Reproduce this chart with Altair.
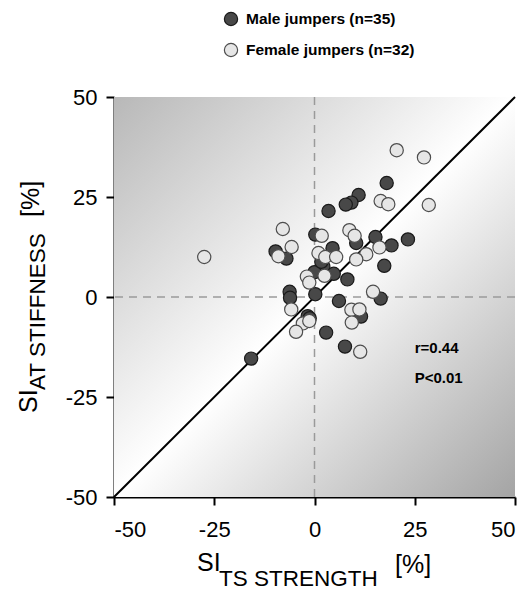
import altair as alt
import pandas as pd

# ---- data ----
groups = ["Male jumpers (n=35)", "Female jumpers (n=32)"]
fills = ["#484848", "#e6e6e6"]
strokes = ["#1a1a1a", "#4d4d4d"]

male_x = [18.0, 11.0, 9.2, 7.8, 3.5, 0.2, 15.2, 10.4, 19.2, 23.3, 4.5, -9.7, -7.0,
          17.4, 2.2, 0.0, 4.8, 8.2, -6.2, -6.1, 0.2, 6.1, 16.5, 11.6, -1.7, -1.2,
          2.9, 7.6, -15.8, 1.7]
male_y = [28.5, 25.5, 23.6, 23.1, 21.5, 15.6, 15.0, 13.5, 12.9, 14.4, 12.2, 11.4, 9.6,
          7.8, 7.6, 6.2, 5.8, 4.4, 1.3, -0.2, 0.7, -1.0, -0.4, -4.9, -4.8, -5.3,
          -8.9, -12.4, -15.4, 8.8]

female_x = [20.5, 27.3, 16.5, 18.4, 28.5, -7.9, 1.8, 8.7, 10.0, -5.7, 16.2, -27.5,
            -9.0, 1.0, 2.7, 5.4, 12.9, 10.4, -1.9, -1.3, 2.5, 14.6, -5.8, 9.2, 11.2,
            -2.9, -4.6, 9.3, 11.4, -1.3]
female_y = [36.7, 34.9, 24.0, 23.2, 23.0, 17.0, 15.3, 16.7, 15.3, 12.5, 12.4, 10.0,
            10.2, 11.0, 10.0, 10.0, 10.7, 9.4, 5.1, 3.6, 5.3, 1.3, -3.1, -3.2, -3.1,
            -6.6, -8.7, -6.4, -13.7, -6.0]

tick_values = [-50, -25, 0, 25, 50]
stats_text = ["r=0.44", "P<0.01"]
stats_x = [25, 25]
stats_y = [-12.75, -20.25]

FONT = "Liberation Sans"

df = pd.DataFrame({
    "x": male_x + female_x,
    "y": male_y + female_y,
    "group": [groups[0]] * len(male_x) + [groups[1]] * len(female_x),
})

xs = alt.Scale(domain=[-50, 50], nice=False, zero=False)
ys = alt.Scale(domain=[-50, 50], nice=False, zero=False)
axis_common = dict(values=tick_values, title=None, grid=False, domainColor="black",
                   domainWidth=2, tickColor="black", tickWidth=2, tickSize=8,
                   labelFont=FONT, labelFontSize=22, labelColor="black",
                   labelExpr="'' + datum.value")
x_axis = alt.Axis(labelPadding=14, **axis_common)
y_axis = alt.Axis(labelPadding=9, **axis_common)

bg_df = pd.DataFrame({"x1": [-50], "x2": [50], "y1": [-50], "y2": [50]})
bg = alt.Chart(bg_df).mark_rect(
    fill=alt.Gradient(
        gradient="linear",
        stops=[alt.GradientStop(color="#b8b8b8", offset=0),
               alt.GradientStop(color="#ffffff", offset=0.5),
               alt.GradientStop(color="#a4a4a4", offset=1)],
        x1=0, y1=0, x2=1, y2=1),
).encode(
    x=alt.X("x1:Q", scale=xs, axis=x_axis),
    x2="x2:Q",
    y=alt.Y("y1:Q", scale=ys, axis=y_axis),
    y2="y2:Q",
)

zero_df = pd.DataFrame({"v": [0]})
vline = alt.Chart(zero_df).mark_rule(color="#9a9a9a", strokeWidth=1.5, strokeDash=[8, 6]).encode(
    x=alt.X("v:Q", scale=xs))
hline = alt.Chart(zero_df).mark_rule(color="#9a9a9a", strokeWidth=1.5, strokeDash=[8, 6]).encode(
    y=alt.Y("v:Q", scale=ys))

ident_df = pd.DataFrame({"d": [-50, 50]})
ident = alt.Chart(ident_df).mark_line(color="black", strokeWidth=2).encode(
    x=alt.X("d:Q", scale=xs), y=alt.Y("d:Q", scale=ys))

fill_scale = alt.Scale(domain=groups, range=fills)
stroke_scale = alt.Scale(domain=groups, range=strokes)

pts = alt.Chart(df).mark_point(shape="circle", filled=True, size=175, strokeWidth=1.2,
                               opacity=1, fillOpacity=1).encode(
    x=alt.X("x:Q", scale=xs),
    y=alt.Y("y:Q", scale=ys),
    fill=alt.Fill("group:N", scale=fill_scale, legend=None),
    stroke=alt.Stroke("group:N", scale=stroke_scale, legend=None),
)

stats_df = pd.DataFrame({"x": stats_x, "y": stats_y, "t": stats_text})
stats = alt.Chart(stats_df).mark_text(align="left", baseline="middle", font=FONT,
                                      fontWeight="bold", fontSize=15, color="black").encode(
    x=alt.X("x:Q", scale=xs), y=alt.Y("y:Q", scale=ys), text="t:N")

# legend (manual, outside plot area)
leg_df = pd.DataFrame({"group": groups})
legend_layers = []
for i, g in enumerate(groups):
    sub = alt.Chart(leg_df).transform_filter(alt.datum.group == g)
    legend_layers.append(sub.mark_point(shape="circle", filled=True, size=175, strokeWidth=1.2,
                                        opacity=1, fillOpacity=1).encode(
        x=alt.value(117), y=alt.value(-78 + 31 * i),
        fill=alt.Fill("group:N", scale=fill_scale, legend=None),
        stroke=alt.Stroke("group:N", scale=stroke_scale, legend=None)))
    legend_layers.append(sub.mark_text(align="left", baseline="middle", font=FONT,
                                       fontWeight="bold", fontSize=15.5, color="black").encode(
        x=alt.value(132), y=alt.value(-78 + 31 * i), text="group:N"))

# axis titles with subscripts
t_df = pd.DataFrame({"a": [0]})
def label(text, x, y, size, angle=0):
    return alt.Chart(t_df).mark_text(text=text, align="left", baseline="alphabetic", font=FONT,
                                     fontSize=size, color="black", angle=angle).encode(
        x=alt.value(x), y=alt.value(y))

titles = [
    label("SI", 83, 474, 25),
    label("TS STRENGTH", 105, 489, 22.5),
    label("[%]", 281, 476, 25),
    label("SI", -77, 316, 25, 270),
    label("AT STIFFNESS", -69, 293, 22.5, 270),
    label("[%]", -75, 120, 25, 270),
]

chart = alt.layer(bg, vline, hline, ident, pts, stats, *legend_layers, *titles).properties(
    width=401, height=400,
    autosize=alt.AutoSizeParams(type="none"),
    padding={"left": 106, "top": 89, "right": 6, "bottom": 93},
).configure_view(stroke=None)

chart.save("out.html", embed_options={"renderer": "svg", "actions": False})
